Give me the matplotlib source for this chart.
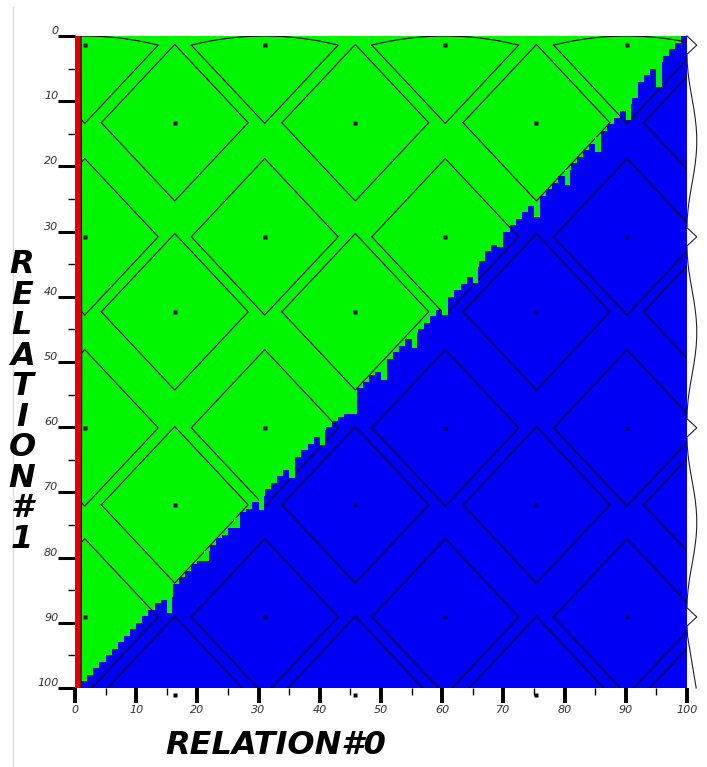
import matplotlib
matplotlib.use("Agg")
import matplotlib.pyplot as plt
from matplotlib.lines import Line2D
import numpy as np

# dolna krawedz zielonego obszaru w kolumnie i (x od i do i+1)
boundary = [100, 99, 98, 97, 96, 95, 94, 93, 92, 91,
            90, 89, 88, 87, 86.5, 86, 84, 83, 82, 81,
            80.5, 79, 78, 77, 76.5, 75.5, 74, 73, 72.5, 71.5,
            70.5, 69.5, 68.5, 67.5, 66.5, 65.5, 64.5, 63.5, 62.5, 61.5,
            60.5, 60, 59, 58.5, 58, 58, 54, 53, 52, 51.5,
            50.5, 49.5, 48.5, 47.5, 46.5, 45.5, 45, 44, 43, 42,
            41, 40, 39, 38, 37, 35.5, 34.5, 33, 32, 31,
            30, 29, 28, 27, 26, 25.5, 24.5, 23.5, 22.5, 21.5,
            20.5, 19.5, 18.5, 17.5, 16.5, 15.5, 14.5, 13.5, 12.5, 11.5,
            10.5, 9.5, 7, 6, 5, 4, 3, 2, 1, 0]

# zielone "kolce" wchodzace w niebieski obszar
spike_cols = [15, 21, 26, 30, 35, 40, 50, 55, 60, 65, 69, 75, 80, 85, 90, 95]
spike_bottoms = [88.5, 80.5, 75.5, 72.7, 67.8, 62.7, 52.8, 47.9, 42.8, 37.9,
                 32.4, 27.8, 22.9, 17.8, 12.9, 7.8]

# siatka rombow
even_x = [1.6, 31.0, 60.5, 90.2]
even_y = [1.4, 30.8, 60.1, 89.1]
odd_x = [16.3, 45.8, 75.4, 104.9]
odd_y = [13.3, 42.3, 71.9, 101.0]
half = 12.0

ticks = list(range(0, 101, 10))
minor_ticks = list(range(5, 100, 10))

GREEN = "#00f500"
BLUE = "#0000f6"

fig = plt.figure(figsize=(7.07, 7.67), dpi=100)
ax = fig.add_axes([75 / 707, 1 - 688 / 767, 612 / 707, 652 / 767])
ax.set_xlim(0, 100)
ax.set_ylim(100, 0)
ax.set_facecolor(GREEN)

x_edges = np.arange(len(boundary) + 1)
b_ext = boundary + [boundary[-1]]
blue = ax.fill_between(x_edges, b_ext, 100, step="post", color=BLUE, lw=0, zorder=3)
blue_path = blue.get_paths()[0]


def diamond(cx, cy, top_arc=False):
    if top_arc:
        t = np.linspace(1, -1, 25)
        xs = [cx - half, cx, cx + half] + list(cx + half * t)
        ys = [cy, cy + half, cy] + list(cy * t ** 2)
    else:
        xs = [cx - half, cx, cx + half, cx, cx - half]
        ys = [cy, cy + half, cy, cy - half, cy]
    return xs, ys


centers = [(cx, cy) for cy in even_y for cx in even_x] + \
          [(cx, cy) for cy in odd_y for cx in odd_x]

for cx, cy in centers:
    xs, ys = diamond(cx, cy, top_arc=(cy == even_y[0]))
    ax.plot(xs, ys, color="black", lw=0.8, zorder=2)
    dark, = ax.plot(xs, ys, color="#00008a", lw=1.7, zorder=4)
    dark.set_clip_path(blue_path, ax.transData)

# kolce
ax.bar(spike_cols, [bt - boundary[c] for c, bt in zip(spike_cols, spike_bottoms)],
       bottom=[boundary[c] for c in spike_cols], width=0.9, align="edge",
       color=GREEN, lw=0, zorder=5)

# punkty srodkow
for cx, cy in centers:
    if cx > 100:
        continue
    if cy <= 100 and cy > boundary[int(cx)]:
        col = "#000070"
    else:
        col = "black"
    ax.plot(cx, cy, "s", ms=2.6, color=col, mec="none", zorder=6, clip_on=False)

# czerwony pas po lewej
ax.axvspan(-0.2, 0.9, color="#e00000", lw=0, zorder=7)
ax.plot([1.0, 1.1, 1.0], [0, 50, 100], color="black", lw=0.8, zorder=7)

# falista linia po prawej (poza osiami)
wx, wy = [100.0], [0.0]
for k, y in enumerate(even_y):
    wx += [100.0, 101.6, 100.0]
    wy += [y - 1.4, y, y + 1.4]
    s = np.linspace(0, 1, 20)
    if k + 1 < len(even_y):
        y0, y1 = y + 1.4, even_y[k + 1] - 1.4
        wx += list(100 + 1.6 * np.sin(np.pi * s) ** 2)
        wy += list(y0 + (y1 - y0) * s)
    else:
        wx += [100.1, 101.5]
        wy += [y + 3, 100]
ax.plot(wx, wy, color="#222222", lw=0.8, zorder=7, clip_on=False)

for sp in ax.spines.values():
    sp.set_visible(False)

ax.set_xticks(ticks)
ax.set_yticks(ticks)
ax.set_xticks(minor_ticks, minor=True)
ax.set_yticks(minor_ticks, minor=True)
ax.tick_params(which="major", axis="y", length=12, width=2.2, pad=0,
               labelsize=8, labelcolor="#333333")
ax.tick_params(which="major", axis="x", length=11, width=2.8, pad=1,
               labelsize=8, labelcolor="#333333")
ax.tick_params(which="minor", length=5, width=1)
for lbl in ax.get_yticklabels():
    lbl.set_va("bottom")
    lbl.set_style("italic")
for lbl in ax.get_xticklabels():
    lbl.set_style("italic")

fig.text(165 / 707, 1 - 745 / 767, "RELATION#0", ha="left", va="center",
         fontsize=23, weight="bold", style="italic")
fig.text(22 / 707, 1 - 402 / 767, "\n".join("RELATION#1"), ha="center", va="center",
         fontsize=23, weight="bold", style="italic", linespacing=0.98)

fig.add_artist(Line2D([13 / 707, 13 / 707], [0, 1 - 7 / 767], color="#dddddd", lw=1))

fig.savefig("out.png", dpi=100)
